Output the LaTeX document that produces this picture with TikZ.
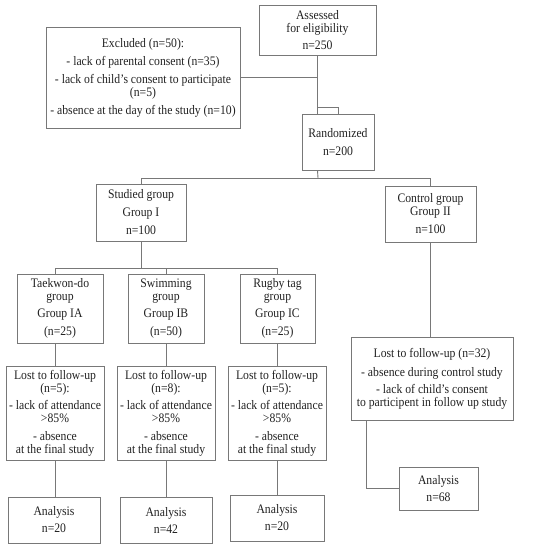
\documentclass[tikz,border=0pt]{standalone}
\usepackage{fontspec}
\setmainfont{Liberation Serif}[FakeStretch=0.9]
\usetikzlibrary{calc}
\definecolor{linec}{rgb}{0.47,0.47,0.47}
\definecolor{textc}{rgb}{0.13,0.13,0.13}
\tikzset{
  box/.style={draw=linec, line width=0.9pt, rectangle, inner sep=0pt, align=center,
    text=textc, font=\fontsize{13}{13}\selectfont},
  conn/.style={draw=linec, line width=0.9pt}
}
\begin{document}
\begin{tikzpicture}[x=1pt,y=-1pt]
\useasboundingbox (0,0) rectangle (550,547);
% boxes
\node[box, minimum width=117, minimum height=50] (assess) at (317.5,30) {Assessed\\for eligibility\\[4pt]n=250};
\node[box, minimum width=194, minimum height=101] (excl) at (143,77.5) {Excluded (n=50):\\[5pt]- lack of parental consent (n=35)\\[5pt]- lack of child's consent to participate\\(n=5)\\[5pt]- absence at the day of the study (n=10)};
\node[box, minimum width=72, minimum height=56] (rand) at (338,142) {Randomized\\[5pt]n=200};
\node[box, minimum width=90, minimum height=57] (studied) at (141,212.5) {Studied group\\[5pt]Group I\\[5pt]n=100};
\node[box, minimum width=91, minimum height=56] (control) at (430.5,214) {Control group\\Group II\\[5pt]n=100};
\node[box, minimum width=86, minimum height=69] (tkd) at (60,308.5) {Taekwon-do\\group\\[4pt]Group IA\\[5pt](n=25)};
\node[box, minimum width=76, minimum height=69] (swim) at (166,308.5) {Swimming\\group\\[4pt]Group IB\\[5pt](n=50)};
\node[box, minimum width=75, minimum height=69] (rugby) at (277.5,308.5) {Rugby tag\\group\\[4pt]Group IC\\[5pt](n=25)};
\node[box, minimum width=98, minimum height=94] (lost1) at (55,413) {Lost to follow-up\\(n=5):\\[4pt]- lack of attendance\\>85\%\\[5pt]- absence\\at the final study};
\node[box, minimum width=98, minimum height=94] (lost2) at (166,413) {Lost to follow-up\\(n=8):\\[4pt]- lack of attendance\\>85\%\\[5pt]- absence\\at the final study};
\node[box, minimum width=98, minimum height=94] (lost3) at (277,413) {Lost to follow-up\\(n=5):\\[4pt]- lack of attendance\\>85\%\\[5pt]- absence\\at the final study};
\node[box, minimum width=92, minimum height=46] (an1) at (54,520) {Analysis\\[4pt]n=20};
\node[box, minimum width=92, minimum height=46] (an2) at (166,520) {Analysis\\[4pt]n=42};
\node[box, minimum width=94, minimum height=46] (an3) at (277,518) {Analysis\\[4pt]n=20};
\node[box, minimum width=162, minimum height=83] (lostc) at (432,378.5) {Lost to follow-up (n=32)\\[6pt]- absence during control study\\[4pt]- lack of child's consent\\to participent in follow up study};
\node[box, minimum width=79, minimum height=43] (anc) at (438.5,488.5) {Analysis\\[4pt]n=68};
% helper coordinates
\coordinate (br) at (318,107);
\coordinate (sp1) at (318,178);
\coordinate (sp2) at (141,268);
% connectors
\draw[conn] (assess.south) -- (assess.south |- rand.north);
\draw[conn] (excl.east) -- (excl.east -| assess.south);
\draw[conn] (br) -| (rand.north);
\draw[conn] (assess.south |- rand.south) -- (sp1);
\draw[conn] (studied.north) -- (studied.north |- sp1) -- (control.north |- sp1) -- (control.north);
\draw[conn] (studied.south) -- (sp2);
\draw[conn] (lost1.north |- tkd.north) -- (lost1.north |- sp2) -- (lost3.north |- sp2) -- (lost3.north |- rugby.north);
\draw[conn] (swim.north) -- (swim.north |- sp2);
\draw[conn] (lost1.north |- tkd.south) -- (lost1.north);
\draw[conn] (swim.south) -- (lost2.north);
\draw[conn] (lost3.north |- rugby.south) -- (lost3.north);
\draw[conn] (lost1.south) -- (lost1.south |- an1.north);
\draw[conn] (lost2.south) -- (an2.north);
\draw[conn] (lost3.south) -- (lost3.south |- an3.north);
\draw[conn] (control.south) -- (control.south |- lostc.north);
\draw[conn] ([xshift=16pt]lostc.south west) |- (anc.west);
\end{tikzpicture}
\end{document}
